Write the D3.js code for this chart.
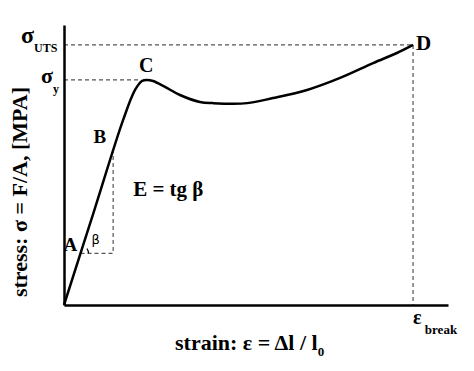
<!DOCTYPE html>
<html>
<head>
<meta charset="utf-8">
<script src="https://cdn.jsdelivr.net/npm/d3@7"></script>
<style>
	body { margin: 0; background: #fff; }
	text { font-family: "Liberation Serif", "Times New Roman", serif; font-weight: bold; fill: #000; }
</style>
</head>
<body>
<div id="chart"></div>
<script>
	/**
	 * Data (arbitrary units, strain 0..100, stress 0..100)
	 */
	let strain = [0, 7.7, 15.4, 18.5, 20.3, 21.6, 23.2, 26.3, 30.2, 35.4, 38.8, 47.7, 54.4, 63.3, 71.9, 80.5, 86.7, 90.9];
	let stress = [0, 33.0, 66.1, 76.8, 80.0, 80.4, 80.0, 77.9, 75.0, 72.5, 72.1, 72.1, 73.9, 76.8, 81.1, 86.4, 90.0, 92.9];
	let yieldStress = 80.4;
	let yieldStrain = 21.6;
	let utsStress = 92.9;
	let breakStrain = 90.9;
	let modulus = 66.1 / 15.4;
	let triangleStrain = [4.3, 12.8];

	/**
	 * Dimensions
	 */
	let width = 474;
	let height = 371;
	let margin = { top: 25, right: 26, bottom: 66, left: 64 };
	let chartW = width - margin.left - margin.right;
	let chartH = height - margin.top - margin.bottom;

	/**
	 * Scales
	 */
	let xScale = d3.scaleLinear().domain([0, 100]).range([0, chartW]);
	let yScale = d3.scaleLinear().domain([0, 100]).range([chartH, 0]);

	let svg = d3.select("#chart").append("svg")
		.attr("width", width)
		.attr("height", height);

	svg.append("rect").attr("width", width).attr("height", height).attr("fill", "#fff");

	let chart = svg.append("g")
		.attr("transform", "translate(" + margin.left + "," + margin.top + ")");

	// Dashed guides
	let dash = function(sel) {
		sel.attr("stroke", "#555").attr("stroke-width", 1.2).attr("stroke-dasharray", "4,3").attr("fill", "none");
	};
	chart.append("line")
		.attr("x1", xScale(0)).attr("x2", xScale(breakStrain))
		.attr("y1", yScale(utsStress)).attr("y2", yScale(utsStress))
		.call(dash);
	chart.append("line")
		.attr("x1", xScale(breakStrain)).attr("x2", xScale(breakStrain))
		.attr("y1", yScale(utsStress)).attr("y2", yScale(0))
		.call(dash);
	chart.append("line")
		.attr("x1", xScale(0)).attr("x2", xScale(yieldStrain - 1.5))
		.attr("y1", yScale(yieldStress)).attr("y2", yScale(yieldStress))
		.call(dash);
	chart.append("path")
		.attr("d", d3.line()([
			[xScale(triangleStrain[0]), yScale(triangleStrain[0] * modulus)],
			[xScale(triangleStrain[1]), yScale(triangleStrain[0] * modulus)],
			[xScale(triangleStrain[1]), yScale(triangleStrain[1] * modulus)]
		]))
		.call(dash);

	// Angle arc at A
	let beta = Math.atan2(xScale(modulus) - xScale(0), yScale(0) - yScale(modulus));
	chart.append("path")
		.attr("transform", "translate(" + xScale(triangleStrain[0]) + "," + yScale(triangleStrain[0] * modulus) + ")")
		.attr("d", d3.arc()({ innerRadius: 8, outerRadius: 8, startAngle: Math.PI / 2, endAngle: beta }))
		.attr("fill", "none")
		.attr("stroke", "#000")
		.attr("stroke-width", 1.2);

	// Axes (plain lines, no ticks)
	chart.append("g")
		.attr("transform", "translate(0," + chartH + ")")
		.call(d3.axisBottom(xScale).tickValues([]).tickSizeOuter(0))
		.select(".domain").attr("stroke-width", 2.5);
	chart.append("g")
		.call(d3.axisLeft(yScale).tickValues([]).tickSizeOuter(0))
		.select(".domain").attr("stroke-width", 2.5);

	// Stress-strain curve
	let curve = d3.line()
		.x(function(d, i) { return xScale(strain[i]); })
		.y(function(d, i) { return yScale(stress[i]); })
		.curve(d3.curveCatmullRom.alpha(0.5));

	chart.append("path")
		.datum(strain)
		.attr("d", curve)
		.attr("fill", "none")
		.attr("stroke", "#000")
		.attr("stroke-width", 2.5);

	/**
	 * Labels
	 */
	let sub = function(t, main, subText, size, subSize, dy) {
		t.append("tspan").text(main).style("font-size", size + "px");
		t.append("tspan").text(subText).style("font-size", subSize + "px").attr("dy", dy);
	};

	svg.append("text").attr("x", 21).attr("y", margin.top + yScale(utsStress) - 2)
		.call(sub, "σ", "UTS", 24, 12, 9);
	svg.append("text").attr("x", 41).attr("y", margin.top + yScale(yieldStress) + 3)
		.call(sub, "σ", "y", 22, 12, 10);

	let point = function(label, sx, sy, dx, dy, size) {
		chart.append("text")
			.attr("x", xScale(sx) + dx)
			.attr("y", yScale(sy) + dy)
			.style("font-size", size + "px")
			.text(label);
	};
	point("A", triangleStrain[0], triangleStrain[0] * modulus, -17, -2, 19);
	point("B", 7.7, 33.0 + 27, 0, 6, 19);
	point("C", yieldStrain, yieldStress, -8, -8, 20);
	point("D", breakStrain, utsStress, 3, 5, 21);

	chart.append("text")
		.attr("x", xScale(triangleStrain[0]) + 11)
		.attr("y", yScale(triangleStrain[0] * modulus) - 9)
		.style("font-family", "'DejaVu Sans', sans-serif")
		.style("font-weight", "normal")
		.style("font-size", "13px")
		.text("β");

	chart.append("text")
		.attr("x", xScale(triangleStrain[1]) + 20)
		.attr("y", yScale(triangleStrain[0] * modulus) - 57)
		.style("font-size", "21px")
		.text("E = tg β");

	chart.append("text")
		.attr("x", xScale(breakStrain))
		.attr("y", chartH + 19)
		.call(sub, "ε", "  break", 20, 13, 10);

	// Axis titles
	let xt = svg.append("text")
		.attr("x", 175)
		.attr("y", 350);
	xt.append("tspan").text("strain: ε = Δl / l").style("font-size", "22px");
	xt.append("tspan").text("0").style("font-size", "13px").attr("dy", 6);

	svg.append("text")
		.attr("transform", "translate(27," + (margin.top + chartH / 2 + 27) + ") rotate(-90)")
		.attr("text-anchor", "middle")
		.style("font-size", "22px")
		.text("stress: σ = F/A, [MPA]");
</script>
</body>
</html>
